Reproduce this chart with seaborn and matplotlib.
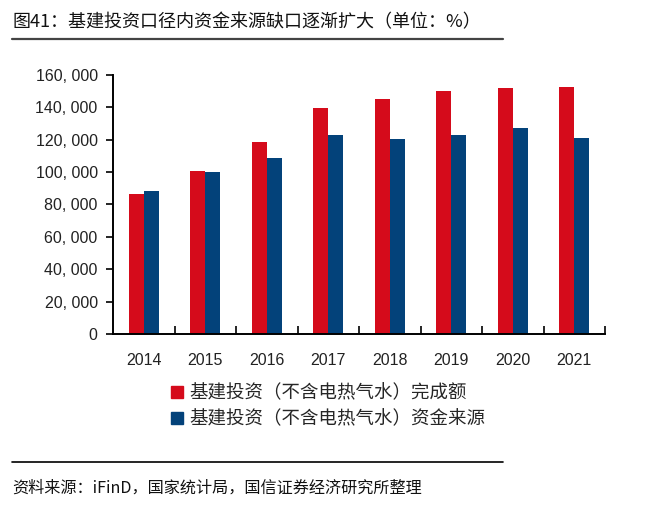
import matplotlib
matplotlib.use("Agg")
import matplotlib.pyplot as plt
from matplotlib.lines import Line2D
from matplotlib.ticker import FuncFormatter
import seaborn as sns
import pandas as pd

years = ["2014", "2015", "2016", "2017", "2018", "2019", "2020", "2021"]
completed = [86500, 100900, 118800, 139600, 145000, 150300, 152000, 152400]
funding = [88100, 99900, 108700, 122700, 120700, 123100, 127100, 121100]
series_names = ["基建投资（不含电热气水）完成额", "基建投资（不含电热气水）资金来源"]
colors = ["#D50B1B", "#03427A"]

title = "图41：基建投资口径内资金来源缺口逐渐扩大（单位：%）"
source = "资料来源：iFinD，国家统计局，国信证券经济研究所整理"

df = pd.DataFrame({
    "year": years * 2,
    "series": [series_names[0]] * len(years) + [series_names[1]] * len(years),
    "value": completed + funding,
})

sns.set_theme(style="white")
plt.rcParams["font.family"] = ["Noto Sans CJK SC", "DejaVu Sans"]

fig = plt.figure(figsize=(6.66, 5.07), dpi=100)
ax = fig.add_axes([113 / 666, 1 - 334 / 507, 492 / 666, 259 / 507])

sns.barplot(data=df, x="year", y="value", hue="series", palette=colors,
            width=0.48, gap=0, saturation=1, linewidth=0, ax=ax, legend=False)

ax.set_ylim(0, 160000)
ax.set_xlim(-0.5, len(years) - 0.5)
ax.set_yticks(range(0, 160001, 20000))
ax.yaxis.set_major_formatter(FuncFormatter(lambda v, p: f"{int(v):,}".replace(",", ", ")))
ax.set_xlabel("")
ax.set_ylabel("")

for s in ["top", "right"]:
    ax.spines[s].set_visible(False)
for s in ["left", "bottom"]:
    ax.spines[s].set_color("black")
    ax.spines[s].set_linewidth(1.4)

# y ticks outward, x ticks between categories pointing up
ax.tick_params(axis="y", which="major", direction="out", length=5, width=1.2,
               color="black", labelsize=11.5, labelcolor="#222222", pad=6, left=True)
ax.set_xticks(range(len(years)))
ax.set_xticklabels(years)
ax.tick_params(axis="x", which="major", length=0, labelsize=11.5,
               labelcolor="#222222", pad=14)
ax.set_xticks([i + 0.5 for i in range(len(years))], minor=True)
ax.tick_params(axis="x", which="minor", direction="in", length=6, width=1.2,
               color="black", bottom=True)
for lab in ax.get_xticklabels() + ax.get_yticklabels():
    lab.set_family(["Liberation Sans", "DejaVu Sans"])

handles = [Line2D([0], [0], marker="s", linestyle="none", markersize=8.5,
                  markerfacecolor=c, markeredgecolor=c) for c in colors]
fig.legend(handles, series_names, loc="upper left",
           bbox_to_anchor=(160 / 666, 1 - 377 / 507), frameon=False,
           fontsize=13.3, handletextpad=0.2, labelspacing=0.45,
           handlelength=1.0, borderaxespad=0)

fig.text(12 / 666, 1 - 22 / 507, title, fontsize=13.0, va="center", ha="left",
         color="#111111", fontweight="medium")
fig.add_artist(Line2D([12 / 666, 503 / 666], [1 - 39 / 507, 1 - 39 / 507],
                      color="#444444", linewidth=1.6))
fig.add_artist(Line2D([12 / 666, 503 / 666], [1 - 462 / 507, 1 - 462 / 507],
                      color="black", linewidth=1.2))
fig.text(12 / 666, 1 - 488 / 507, source, fontsize=11.6, va="center", ha="left",
         color="#111111")

fig.savefig("out.png", dpi=100)
